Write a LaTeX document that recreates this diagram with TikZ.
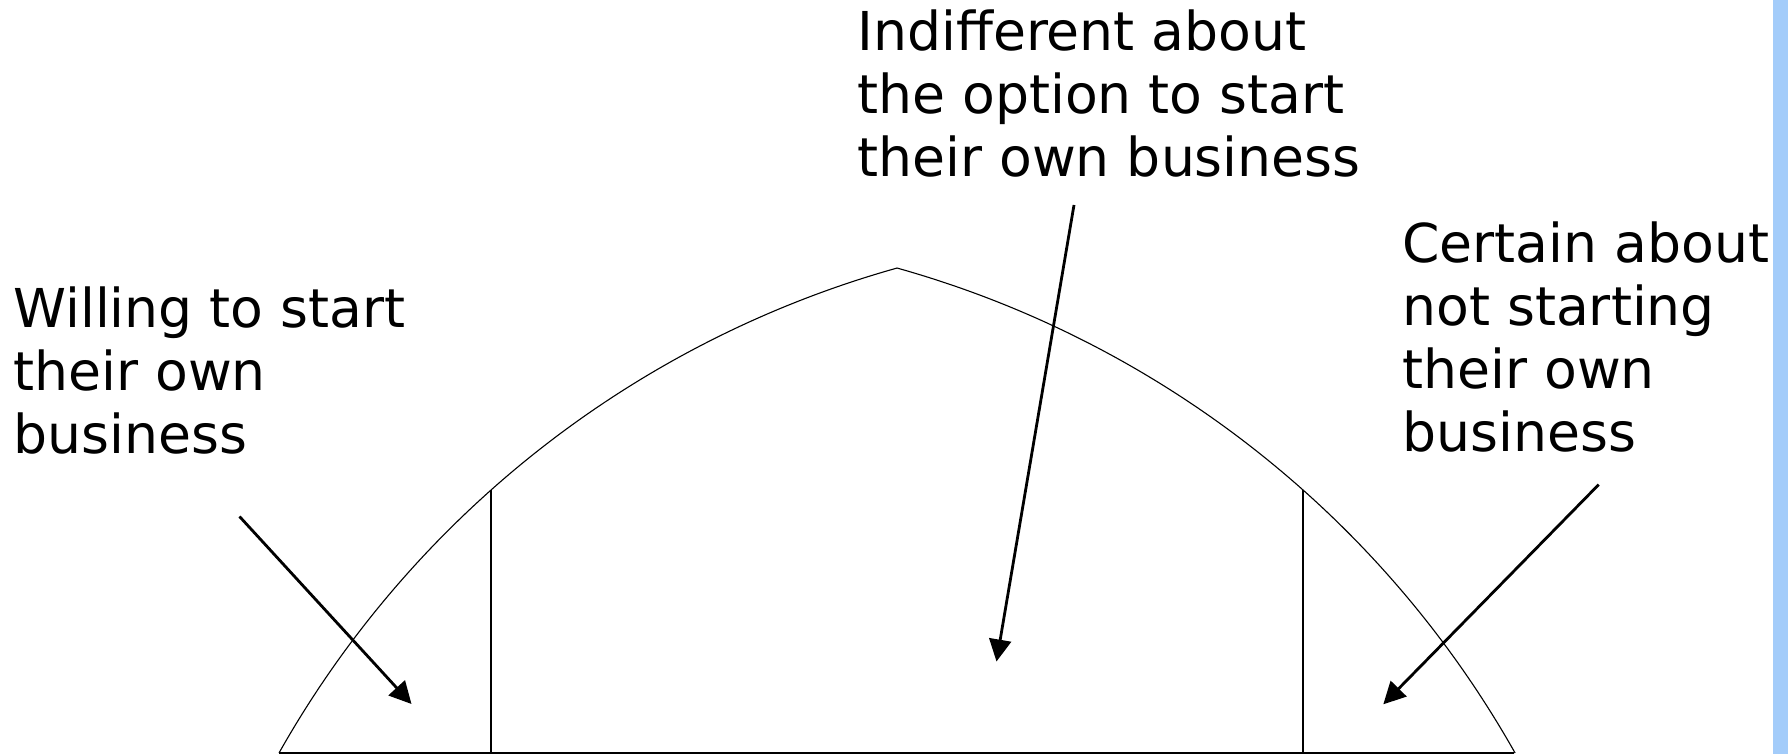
\documentclass[tikz,border=0pt]{standalone}
\usepackage{fontspec}
\setmainfont{DejaVu Sans}
\usetikzlibrary{arrows.meta}

\definecolor{barblue}{RGB}{163,204,250}

\tikzset{
  label/.style={anchor=base west,inner sep=0pt,align=left,
    font=\fontsize{26.8}{31.5}\selectfont},
  pointer/.style={-{Triangle[length=11pt,width=11pt]},line width=1.4pt},
  thin line/.style={line width=0.55pt}
}

\begin{document}
\begin{tikzpicture}[x=0.5pt,y=0.5pt]
    \useasboundingbox (0,0) rectangle (1788,754);
    \fill[barblue] (1773,0) rectangle (1788,754);

    % the arch
    \coordinate (baseL) at (279,1);
    \coordinate (baseR) at (1514,1);
    \coordinate (top) at (897,486);
    \draw[thin line] (baseL) arc[start angle=150.58,end angle=105.66,radius=514.1pt]
                     arc[start angle=74.34,end angle=29.42,radius=514.1pt];
    \draw[thin line] (baseL) -- (baseR);
    \coordinate (divL) at (491,264);
    \coordinate (divR) at (1303,264);
    \draw[thin line] (divL) -- (divL |- baseL);
    \draw[thin line] (divR) -- (divR |- baseR);

    % labels (base = baseline of the last line)
    \node[label] (willing) at (13,300.7) {Willing to start\\their own\\business};
    \node[label] (indiff) at (857,577.3) {Indifferent about\\the option to start\\their own business};
    \node[label] (certain) at (1402,302.3) {Certain about\\not starting\\their own\\business};

    % arrows
    \coordinate (willingTail) at (239.5,237.5);
    \coordinate (willingTip) at (411.5,50);
    \coordinate (indiffTail) at (1074,549);
    \coordinate (indiffTip) at (996.5,92.5);
    \coordinate (certainTail) at (1598.7,269.4);
    \coordinate (certainTip) at (1383.3,49.7);
    \draw[pointer] (willingTail) -- (willingTip);
    \draw[pointer] (indiffTail) -- (indiffTip);
    \draw[pointer] (certainTail) -- (certainTip);
  \end{tikzpicture}
\end{document}
